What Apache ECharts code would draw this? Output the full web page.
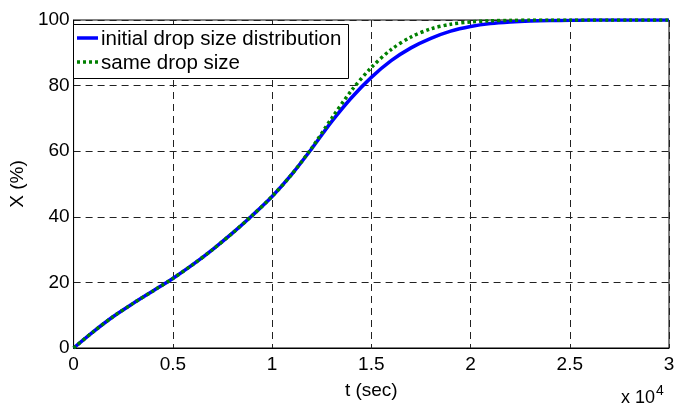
<!DOCTYPE html>
<html>
<head>
<meta charset="utf-8">
<script src="https://cdn.jsdelivr.net/npm/echarts@6/dist/echarts.min.js"></script>
<style>
html,body{margin:0;padding:0;background:#fff;}
#chart{width:682px;height:405px;}
</style>
</head>
<body>
<div id="chart"></div>
<script>
// time in units of 10^4 s
const tValues = [0,0.1,0.2,0.3,0.4,0.5,0.6,0.7,0.8,0.9,1.0,1.1,1.2,1.3,1.4,1.5,1.6,1.7,1.8,1.9,2.0,2.1,2.2,2.3,2.4,2.5,2.6,2.7,2.8,2.9,3.0];
// conversion X (%) with the initial drop size distribution
const distValues = [0,5,9.6,13.6,17.4,21.2,25.4,30,35,40.4,46.2,53,60.8,69,76.3,82.5,87.6,91.5,94.4,96.6,98,98.9,99.4,99.7,99.85,99.9,100,100,100,100,100];
// conversion X (%) when every drop has the same size
const sameValues = [0,5,9.6,13.6,17.4,21.2,25.4,30,35,40.4,46.2,53,61,70,78.5,85.5,91,94.8,97.3,98.7,99.4,99.75,99.9,100,100,100,100,100,100,100,100];
const seriesNames = ['initial drop size distribution', 'same drop size'];
const xTicks = [0, 0.5, 1, 1.5, 2, 2.5, 3];
const yTicks = [0, 20, 40, 60, 80, 100];

const FONT = 'Liberation Sans';
const FS = 19;
const LEGEND_FS = 20.5;

const chart = echarts.init(document.getElementById('chart'));
const pairs = vals => tValues.map((t, i) => [t, vals[i]]);

chart.setOption({
  animation: false,
  grid: { left: 69, right: 13, top: 20, bottom: 53, show: true, borderColor: '#000', borderWidth: 1, backgroundColor: 'transparent' },
  xAxis: {
    type: 'value', min: xTicks[0], max: xTicks[xTicks.length - 1], interval: 0.5,
    name: 't (sec)', nameLocation: 'middle', nameGap: 33,
    nameTextStyle: { fontFamily: FONT, fontSize: FS, color: '#000' },
    axisLine: { show: true, lineStyle: { color: '#000', width: 1 } },
    axisTick: { show: false },
    axisLabel: { margin: 7, fontFamily: FONT, fontSize: FS, color: '#000', formatter: v => String(v) },
    splitLine: { show: true, lineStyle: { color: '#222', type: [7, 5], width: 1 } }
  },
  yAxis: {
    type: 'value', min: yTicks[0], max: yTicks[yTicks.length - 1], interval: 20,
    name: 'X (%)', nameLocation: 'middle', nameGap: 29,
    nameTextStyle: { fontFamily: FONT, fontSize: FS, color: '#000' },
    axisLine: { show: true, lineStyle: { color: '#000', width: 1 } },
    axisTick: { show: false },
    axisLabel: { margin: 4, fontFamily: FONT, fontSize: FS, color: '#000' },
    splitLine: { show: true, lineStyle: { color: '#222', type: [7, 5], width: 1 } }
  },
  series: [
    {
      name: seriesNames[0], type: 'line', data: pairs(distValues),
      showSymbol: false, smooth: 0.3,
      lineStyle: { color: '#0000ff', width: 3.5 }
    },
    {
      name: seriesNames[1], type: 'line', data: pairs(sameValues),
      showSymbol: false, smooth: 0.3,
      lineStyle: { color: '#008000', width: 3.5, type: [3, 3], cap: 'butt' }
    }
  ],
  graphic: [
    { type: 'rect', shape: { x: 73.5, y: 24.5, width: 275, height: 54 }, style: { fill: '#fff', stroke: '#000', lineWidth: 1 }, z: 10 },
    { type: 'line', shape: { x1: 77, y1: 38, x2: 98, y2: 38 }, style: { stroke: '#0000ff', lineWidth: 3.5 }, z: 11 },
    { type: 'line', shape: { x1: 77, y1: 62, x2: 98, y2: 62 }, style: { stroke: '#008000', lineWidth: 3.5, lineDash: [3, 3] }, z: 11 },
    { type: 'text', x: 101, y: 39, style: { text: seriesNames[0], font: LEGEND_FS + 'px ' + FONT, fill: '#000', textVerticalAlign: 'middle' }, z: 11 },
    { type: 'text', x: 101, y: 63, style: { text: seriesNames[1], font: LEGEND_FS + 'px ' + FONT, fill: '#000', textVerticalAlign: 'middle' }, z: 11 },
    { type: 'text', x: 621, y: 384, style: {
        text: '{b|x 10}{s|4}',
        rich: { b: { fontFamily: FONT, fontSize: 18, color: '#000', verticalAlign: 'bottom' },
                s: { fontFamily: FONT, fontSize: 14, color: '#000', verticalAlign: 'top', padding: [0,0,9,1] } }
      }, z: 11 }
  ]
});
</script>
</body>
</html>
